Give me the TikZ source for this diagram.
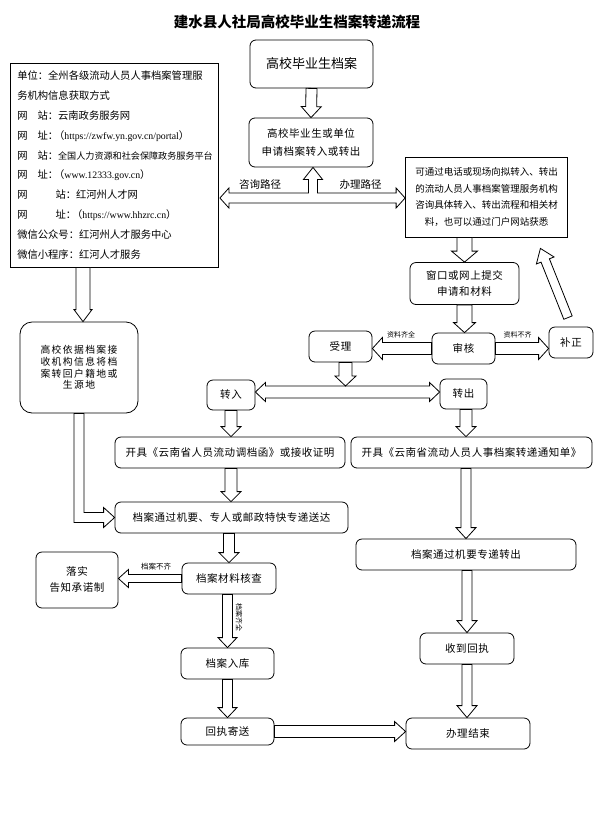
\documentclass[tikz,border=0pt]{standalone}
\usepackage{fontspec}
\setmainfont{Noto Sans CJK SC}
\newfontfamily\urlf{Liberation Serif}
\newfontfamily\boxf[LetterSpace=5]{Noto Sans CJK SC}
\newfontfamily\lbf[LetterSpace=14]{Noto Sans CJK SC}
\usetikzlibrary{calc}
\newcommand\fs[2]{\fontsize{#1}{#2}\selectfont}
% block arrow: shaft half width, head half width, head length, start, end
\newcommand\barrow[5]{%
  \coordinate (baS) at (#4);
  \coordinate (baE) at (#5);
  \coordinate (baC) at ($(baE)!#3pt!(baS)$);
  \draw[blk] ($(baS)!#1pt!90:(baE)$) -- ($(baC)!#1pt!90:(baE)$) -- ($(baC)!#2pt!90:(baE)$) -- (baE) -- ($(baC)!#2pt!-90:(baE)$) -- ($(baC)!#1pt!-90:(baE)$) -- ($(baS)!#1pt!-90:(baE)$) -- cycle;}
\newcommand\dbarrow[5]{%
  \coordinate (baS) at (#4);
  \coordinate (baE) at (#5);
  \coordinate (baA) at ($(baS)!#3pt!(baE)$);
  \coordinate (baB) at ($(baE)!#3pt!(baS)$);
  \draw[blk] (baS) -- ($(baA)!#2pt!90:(baE)$) -- ($(baA)!#1pt!90:(baE)$) -- ($(baB)!#1pt!90:(baE)$) -- ($(baB)!#2pt!90:(baE)$) -- (baE) -- ($(baB)!#2pt!-90:(baE)$) -- ($(baB)!#1pt!-90:(baE)$) -- ($(baA)!#1pt!-90:(baE)$) -- ($(baA)!#2pt!-90:(baE)$) -- cycle;}
\newcommand\infoline[1]{\mbox{\kern3pt #1}}
\tikzset{
  rbox/.style={draw, line width=0.8pt, rounded corners=6pt, align=center, inner sep=0pt, font=\boxf\fs{10.5}{16}},
  sbox/.style={draw, line width=0.8pt, align=center, inner sep=0pt},
  blk/.style={draw, fill=white, line width=0.8pt, line join=miter},
  lbl/.style={inner sep=0pt},
}
\begin{document}
\begin{tikzpicture}[x=1pt,y=-1pt]
\fill[white] (0,0) rectangle (605,820);
\useasboundingbox (0,0) rectangle (605,820);

\node[lbl, font=\bfseries\fs{14.5}{16}] (title) at (297,22) {建水县人社局高校毕业生档案转递流程};

\node[rbox, minimum width=123pt, minimum height=48pt, font=\fs{13}{16}] (A) at (311.5,64) {高校毕业生档案};
\node[rbox, minimum width=124pt, minimum height=49pt, font=\boxf\fs{10.5}{18}] (B) at (311,142.5) {高校毕业生或单位\\申请档案转入或转出};

\node[sbox, minimum width=207.5pt, minimum height=204pt, text width=200pt, align=left, inner xsep=3.75pt, font=\fs{10.3}{19.9}] (L) at (114.25,165) {%
\infoline{单位：全州各级流动人员人事档案管理服}\\
\infoline{务机构信息获取方式}\\
\infoline{网\kern10pt 站：云南政务服务网}\\
\infoline{网\kern10pt 址：\kern-4pt（{\urlf\fs{9.8}{19.9}https://zwfw.yn.gov.cn/portal}）}\\
\infoline{网\kern10pt 站：{\fs{9.1}{19.9}全国人力资源和社会保障政务服务平台}}\\
\infoline{网\kern10pt 址：\kern-4pt（{\urlf\fs{9.8}{19.9}www.12333.gov.cn}）}\\
\infoline{网\kern28pt 站：红河州人才网}\\
\infoline{网\kern28pt 址：\kern-4pt（{\urlf\fs{9.8}{19.9}https://www.hhzrc.cn}）}\\
\infoline{微信公众号：红河州人才服务中心}\\
\infoline{微信小程序：红河人才服务}};

\node[sbox, minimum width=162pt, minimum height=80pt, font=\fs{9.5}{16.5}] (R) at (486.5,197) {可通过电话或现场向拟转入、转出\\的流动人员人事档案管理服务机构\\咨询具体转入、转出流程和相关材\\料，也可以通过门户网站获悉};

\node[rbox, minimum width=109pt, minimum height=42pt] (W) at (464.5,283.5) {窗口或网上提交\\申请和材料};
\node[rbox, minimum width=63pt, minimum height=31pt] (S) at (463.5,348.5) {审核};
\node[rbox, minimum width=63pt, minimum height=31pt] (SL) at (340.5,346.5) {受理};
\node[rbox, minimum width=44pt, minimum height=31pt] (BZ) at (571,342.5) {补正};
\node[rbox, minimum width=48pt, minimum height=30pt] (ZR) at (231,395) {转入};
\node[rbox, minimum width=47pt, minimum height=30pt] (ZC) at (463.5,394) {转出};
\node[rbox, rounded corners=12pt, minimum width=118pt, minimum height=91pt, font=\lbf\fs{9.8}{11.8}] (LB) at (79,367.5) {高校依据档案接\\收机构信息将档\\案转回户籍地或\\生源地};
\node[rbox, minimum width=230pt, minimum height=31pt] (K1) at (230,452.5) {开具《云南省人员流动调档函》或接收证明};
\node[rbox, minimum width=241pt, minimum height=31pt] (K2) at (471.5,452.5) {开具《云南省流动人员人事档案转递通知单》};
\node[rbox, minimum width=233pt, minimum height=31pt] (D1) at (231.5,517.5) {档案通过机要、专人或邮政特快专递送达};
\node[rbox, minimum width=220pt, minimum height=31pt] (D2) at (466,554.5) {档案通过机要专递转出};
\node[rbox, minimum width=94pt, minimum height=31pt] (HC) at (229,578.5) {档案材料核查};
\node[rbox, minimum width=82pt, minimum height=56pt] (LS) at (77,580) {落实\\告知承诺制};
\node[rbox, minimum width=93pt, minimum height=31pt] (RK) at (227.5,663.5) {档案入库};
\node[rbox, minimum width=93pt, minimum height=27pt] (HZ) at (227.5,731.5) {回执寄送};
\node[rbox, minimum width=124pt, minimum height=31pt] (JS) at (468,733.5) {办理结束};
\node[rbox, minimum width=94pt, minimum height=31pt] (SD) at (467,648.5) {收到回执};

% labels
\node[lbl, font=\fs{10.5}{12}] (zx) at (260,185) {咨询路径};
\node[lbl, font=\fs{10.5}{12}] (bl) at (360.5,185) {办理路径};
\node[lbl, font=\fs{7}{8}] (zq) at (401,335) {资料齐全};
\node[lbl, font=\fs{7}{8}] (zb) at (517.5,335) {资料不齐};
\node[lbl, font=\fs{7.5}{8}] (db) at (156,567) {档案不齐};
\node[lbl, font=\fs{7}{8}, rotate=-90] (dq) at (239,617) {档案齐全};

% arrows
\barrow{5.5}{10}{11}{A.south}{B.north}

% T-shaped double arrow with up branch into B
\coordinate (jn) at (313,198);
\coordinate (tl) at ($(L.east |- jn)+(1.5,0)$);
\coordinate (tr) at (R.west |- jn);
\coordinate (tu) at (jn |- B.south);
\draw[blk] (tl) -- ($(tl)+(9,-10)$) -- ($(tl)+(9,-5)$) -- ($(jn)+(-4.5,-5)$) -- ($(tu)+(-4.5,12)$) -- ($(tu)+(-9.5,12)$) -- (tu) -- ($(tu)+(9.5,12)$) -- ($(tu)+(4.5,12)$) -- ($(jn)+(4.5,-5)$) -- ($(tr)+(-9,-5)$) -- ($(tr)+(-9,-10)$) -- (tr) -- ($(tr)+(-9,10)$) -- ($(tr)+(-9,5)$) -- ($(tl)+(9,5)$) -- ($(tl)+(9,10)$) -- cycle;

\barrow{7.5}{13}{11}{W.north |- R.south}{W.north}
\barrow{7.5}{11}{10}{W.south}{W.south |- S.north}
\barrow{6}{11}{10}{S.west}{SL.east |- S.west}
\barrow{6}{11}{10}{S.east}{BZ.west |- S.east}
\coordinate (dg1) at ($(BZ.north)+(-3,-9)$);
\coordinate (dg2) at ($(R.south east)+(-27.5,11)$);
\barrow{4.5}{9.5}{13}{dg1}{dg2}

\coordinate (zz) at ($(ZR.east)+(0,-3)$);
\dbarrow{6}{9.5}{10}{zz}{ZC.west |- zz}
\coordinate (sl1) at ($(SL.south)+(5,0)$);
\coordinate (sl2) at ($(sl1 |- zz)+(0,-6)$);
\barrow{6.5}{10.5}{10}{sl1}{sl2}

\coordinate (lb1) at ($(LB.north)+(4,0)$);
\barrow{7}{9}{12}{lb1 |- L.south}{lb1}

% bent arrow LB -> D1
\coordinate (bs) at (LB.south);
\coordinate (be) at (D1.west);
\coordinate (bc) at (bs |- be);
\draw[blk] ($(bs)+(-5,0)$) -- ($(bc)+(-5,5)$) -- ($(be)+(-11,5)$) -- ($(be)+(-11,10)$) -- (be) -- ($(be)+(-11,-10)$) -- ($(be)+(-11,-5)$) -- ($(bc)+(5,-5)$) -- ($(bs)+(5,0)$) -- cycle;

\barrow{6}{10}{10}{ZR.south}{ZR.south |- K1.north}
\barrow{6}{10}{10}{D2.north |- ZC.south}{D2.north |- K2.north}
\barrow{6}{10}{10}{K1.south -| ZR.south}{ZR.south |- D1.north}
\barrow{5}{10}{11}{D2.north |- K2.south}{D2.north}
\barrow{5.5}{10}{10}{HC.north |- D1.south}{HC.north}
\barrow{4}{9}{10}{HC.west}{LS.east |- HC.west}
\barrow{5}{9.5}{10}{HC.south -| RK.north}{RK.north}
\barrow{5}{9.5}{10}{RK.south}{HZ.north}
\barrow{6}{10}{11}{HZ.east}{JS.west |- HZ.east}
\barrow{5}{10}{12}{D2.south -| SD.north}{SD.north}
\barrow{5}{10}{12}{SD.south}{SD.south |- JS.north}
\end{tikzpicture}
\end{document}
